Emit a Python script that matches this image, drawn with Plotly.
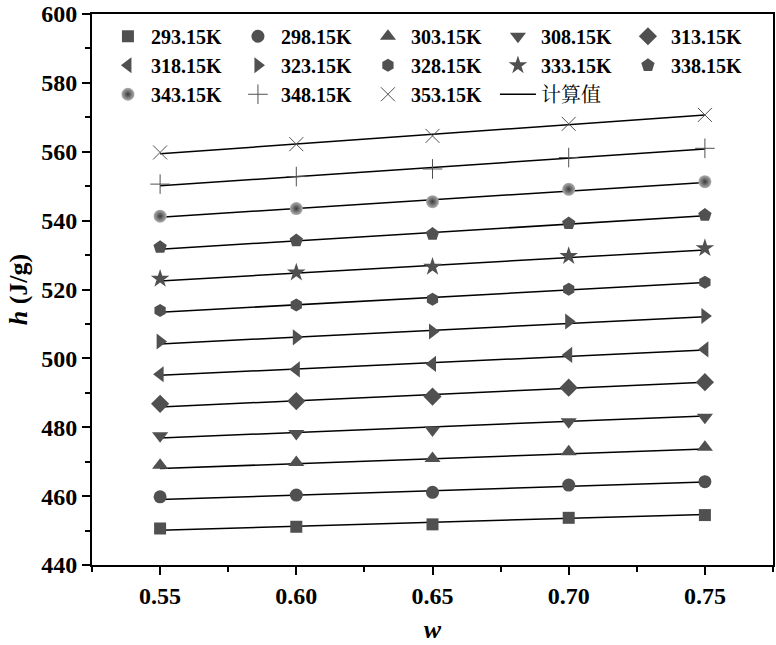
import plotly.graph_objects as go

w = [0.55, 0.60, 0.65, 0.70, 0.75]
w_calc = [0.55, 0.75]

temps = ["293.15K", "298.15K", "303.15K", "308.15K", "313.15K",
         "318.15K", "323.15K", "328.15K", "333.15K", "338.15K",
         "343.15K", "348.15K", "353.15K"]

h_293 = [450.6, 451.1, 451.8, 453.7, 454.5]
h_298 = [459.8, 460.3, 461.1, 463.2, 464.2]
h_303 = [469.0, 469.8, 470.9, 472.9, 474.2]
h_308 = [477.5, 478.2, 479.2, 481.6, 482.9]
h_313 = [486.8, 487.6, 488.9, 491.5, 493.1]
h_318 = [495.4, 496.8, 498.4, 501.0, 502.6]
h_323 = [504.9, 506.1, 507.8, 510.7, 512.3]
h_328 = [513.9, 515.5, 517.2, 520.1, 522.1]
h_333 = [523.1, 524.9, 526.6, 529.7, 532.0]
h_338 = [532.3, 534.2, 536.1, 539.2, 541.6]
h_343 = [541.3, 543.5, 545.5, 549.1, 551.3]
h_348 = [550.6, 552.8, 555.0, 558.3, 561.0]
h_353 = [559.8, 562.2, 564.6, 568.1, 570.7]

# calculated values at w = 0.55 and 0.75
calc_293 = [450.1, 454.7]
calc_298 = [459.0, 464.1]
calc_303 = [468.0, 473.7]
calc_308 = [476.9, 483.3]
calc_313 = [485.9, 493.1]
calc_318 = [495.1, 502.4]
calc_323 = [504.2, 512.1]
calc_328 = [513.4, 522.0]
calc_333 = [522.5, 531.5]
calc_338 = [531.7, 541.4]
calc_343 = [541.0, 551.1]
calc_348 = [550.1, 560.8]
calc_353 = [559.4, 570.7]

h_all = [h_293, h_298, h_303, h_308, h_313, h_318, h_323, h_328,
         h_333, h_338, h_343, h_348, h_353]
calc_all = [calc_293, calc_298, calc_303, calc_308, calc_313, calc_318,
            calc_323, calc_328, calc_333, calc_338, calc_343, calc_348, calc_353]

symbols = ["square", "circle", "triangle-up", "triangle-down", "diamond",
           "triangle-left", "triangle-right", "hexagon", "star", "pentagon",
           "circle", "cross-thin", "x-thin"]
sizes = [12, 13, 14, 14, 14, 14, 14, 13, 14, 14, 13, 14, 14]

GRAY = "#505050"
fig = go.Figure()

# calculated lines first (drawn under markers)
for i, c in enumerate(calc_all):
    fig.add_trace(go.Scatter(
        x=w_calc, y=c, mode="lines",
        line=dict(color="black", width=1.5),
        name="计算值", legendgroup="calc", showlegend=False,
        legendrank=2000))

for i, t in enumerate(temps):
    marker = dict(symbol=symbols[i], size=sizes[i], color=GRAY,
                  line=dict(width=0, color=GRAY))
    if symbols[i] in ("cross-thin", "x-thin"):
        marker = dict(symbol=symbols[i], size=sizes[i], color=GRAY,
                      line=dict(width=1, color=GRAY))
    if i == 10:
        marker = dict(symbol="circle", size=sizes[i], color="#b0b0b0",
                      gradient=dict(type="radial", color="#3a3a3a"),
                      line=dict(width=0))
    fig.add_trace(go.Scatter(
        x=w, y=h_all[i], mode="markers", marker=marker,
        name="<b>" + t + "</b>", legendrank=1000 + i))

# legend entry for the calculated line
fig.add_trace(go.Scatter(
    x=[None], y=[None], mode="lines",
    line=dict(color="black", width=1.5),
    name="计算值", legendrank=1999))

fig.update_layout(
    template="none",
    width=776, height=645,
    margin=dict(l=92, r=3, t=14, b=80),
    paper_bgcolor="white", plot_bgcolor="white",
    font=dict(family="Liberation Serif, Noto Sans CJK SC", color="black"),
    legend=dict(
        orientation="h", x=0.019, y=0.995, xanchor="left", yanchor="top",
        entrywidth=79, entrywidthmode="pixels",
        font=dict(family="Liberation Serif, Noto Serif CJK SC, Noto Sans CJK SC", size=20, color="black"),
        bgcolor="rgba(0,0,0,0)", borderwidth=0, tracegroupgap=0, itemwidth=36,
        traceorder="normal"),
    xaxis=dict(
        range=[0.525, 0.775], tickvals=w, automargin=False,
        ticktext=["0.55", "0.60", "0.65", "0.70", "0.75"],
        ticks="outside", ticklen=8, tickwidth=2, tickcolor="black",
        minor=dict(tickvals=[0.525, 0.575, 0.625, 0.675, 0.725, 0.775],
                   ticks="outside", ticklen=5, tickwidth=2, tickcolor="black"),
        showline=True, linewidth=2, linecolor="black", mirror=True,
        showgrid=False, zeroline=False,
        tickfont=dict(family="Liberation Serif", size=24, color="black", weight="bold"),
        title=dict(text="<b><i>w</i></b>", font=dict(family="Liberation Serif", size=26),
                   standoff=12)),
    yaxis=dict(
        range=[440, 600], tickvals=[440, 460, 480, 500, 520, 540, 560, 580, 600],
        automargin=False,
        ticks="outside", ticklen=8, tickwidth=2, tickcolor="black",
        minor=dict(dtick=10, ticks="outside", ticklen=5, tickwidth=2, tickcolor="black"),
        showline=True, linewidth=2, linecolor="black", mirror=True,
        showgrid=False, zeroline=False,
        tickfont=dict(family="Liberation Serif", size=24, color="black", weight="bold"),
        title=dict(text="<b><i>h</i> (J/g)</b>", font=dict(family="Liberation Serif", size=26),
                   standoff=6)),
)

fig.write_html("out.html", config={"displayModeBar": False},
               post_script="document.body.style.margin='0';document.body.style.overflow='hidden';")
